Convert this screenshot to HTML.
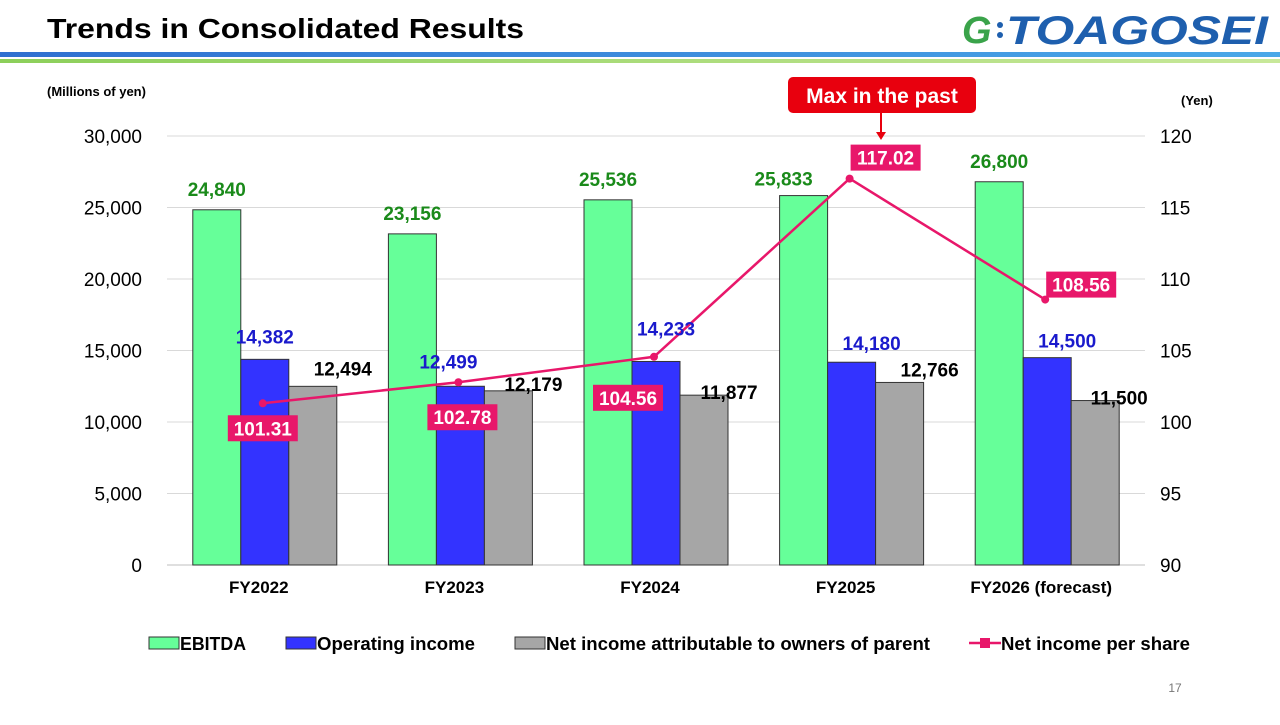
<!DOCTYPE html>
<html><head><meta charset="utf-8">
<style>
body{margin:0;width:1280px;height:720px;background:#fff;overflow:hidden;font-family:"Liberation Sans",Arial,sans-serif}
</style></head>
<body>
<svg id="c" width="1280" height="720" xmlns="http://www.w3.org/2000/svg" font-family="Liberation Sans, Arial, sans-serif">
<defs>
<linearGradient id="bl" x1="0" x2="1"><stop offset="0" stop-color="#2f6fd0"/><stop offset="1" stop-color="#4aa8e8"/></linearGradient>
<linearGradient id="gl" x1="0" x2="1"><stop offset="0" stop-color="#8ccf5a"/><stop offset="1" stop-color="#c8e89a"/></linearGradient>
</defs>
<text x="47" y="38" font-size="28" font-weight="bold" fill="#000" textLength="477" lengthAdjust="spacingAndGlyphs">Trends in Consolidated Results</text>
<g>
<text x="962" y="43" font-size="38" font-style="italic" font-weight="bold" fill="#3aa34a">G</text>
<circle cx="1000" cy="25" r="3" fill="#1e5fae"/><circle cx="1000" cy="35" r="3" fill="#1e5fae"/>
<text x="1006" y="44" font-size="40" font-style="italic" font-weight="bold" fill="#1e5fae" textLength="262" lengthAdjust="spacingAndGlyphs">TOAGOSEI</text>
</g>
<rect x="0" y="52" width="1280" height="5" fill="url(#bl)"/>
<rect x="0" y="59" width="1280" height="4" fill="url(#gl)"/>
<text x="47" y="96" font-size="13" font-weight="bold">(Millions of yen)</text>
<text x="1181" y="105" font-size="13" font-weight="bold">(Yen)</text>
<g id="grid"></g><g id="bars"></g><g id="line"></g><g id="labels"></g>
<g>
<rect x="788" y="77" width="188" height="36" rx="5" fill="#e8000e"/>
<text x="882" y="103" font-size="21" font-weight="bold" fill="#fff" text-anchor="middle">Max in the past</text>
<line x1="881" y1="113" x2="881" y2="134" stroke="#e8000e" stroke-width="2"/>
<polygon points="876,132 886,132 881,140" fill="#e8000e"/>
</g>
<g font-size="18" font-weight="bold">
<g><rect x="149" y="637" width="30" height="12" fill="#66ff99" stroke="#333"/><text x="180" y="650" textLength="66" lengthAdjust="spacingAndGlyphs">EBITDA</text></g>
<g><rect x="286" y="637" width="30" height="12" fill="#3333ff" stroke="#333"/><text x="317" y="650" textLength="158" lengthAdjust="spacingAndGlyphs">Operating income</text></g>
<g><rect x="515" y="637" width="30" height="12" fill="#a6a6a6" stroke="#333"/><text x="546" y="650" textLength="384" lengthAdjust="spacingAndGlyphs">Net income attributable to owners of parent</text></g>
<g><line x1="969" y1="643" x2="1001" y2="643" stroke="#e8176a" stroke-width="2.5"/><rect x="980" y="638" width="10" height="10" fill="#e8176a"/><text x="1001" y="650" textLength="189" lengthAdjust="spacingAndGlyphs">Net income per share</text></g>
</g>
<text x="1175" y="692" font-size="12" fill="#777" text-anchor="middle">17</text>
</svg>
<script>
const categories=["FY2022","FY2023","FY2024","FY2025","FY2026 (forecast)"];
const ebitda=[24840,23156,25536,25833,26800];
const opIncome=[14382,12499,14233,14180,14500];
const netIncome=[12494,12179,11877,12766,11500];
const eps=[101.31,102.78,104.56,117.02,108.56];
const leftTicks=[0,5000,10000,15000,20000,25000,30000];
const rightTicks=[90,95,100,105,110,115,120];
const NS="http://www.w3.org/2000/svg";
const X0=167,X1=1145,Y0=565,Y1=136;
const slot=(X1-X0)/categories.length;
const yL=v=>Y0-(v/30000)*(Y0-Y1);
const yR=v=>Y0-((v-90)/30)*(Y0-Y1);
const xC=i=>X0+slot*(i+0.5);
function mk(t,a,p){const e=document.createElementNS(NS,t);for(const k in a)e.setAttribute(k,a[k]);p.appendChild(e);return e;}
const fmt=v=>v.toLocaleString("en-US");
const grid=document.getElementById("grid");
leftTicks.forEach((t,i)=>{
  if(t>0){const g=mk("line",{x1:X0,x2:X1,y1:yL(t),y2:yL(t),stroke:"#d9d9d9"},grid);
  
  }
  const l=mk("text",{x:142,y:yL(t)+7,"font-size":19,"text-anchor":"end"},grid);l.textContent=fmt(t);
  
  
  const r=mk("text",{x:1160,y:yR(rightTicks[i])+7,"font-size":19},grid);r.textContent=rightTicks[i];
  
  
});
const ax=mk("line",{x1:X0,x2:X1,y1:Y0,y2:Y0,stroke:"#bfbfbf"},grid);


const bars=document.getElementById("bars"),labels=document.getElementById("labels");
const bw=48;
const series=[[ebitda,"#66ff99","ebitda"],[opIncome,"#3333ff","operating-income"],[netIncome,"#a6a6a6","net-income"]];
const labColors=["#1a8a1a","#1a1acc","#000"];
const labOff=[[[0,-14],[0,-14],[0,-14],[-20,-10],[0,-14]],[[0,-16],[-12,-18],[10,-26],[20,-12],[20,-10]],[[30,-11],[25,0],[25,4],[30,-6],[24,4]]];
categories.forEach((c,i)=>{
  const cx=xC(i);
  series.forEach((s,k)=>{
    const x=cx-1.5*bw+k*bw,v=s[0][i];
    const b=mk("rect",{x:x,y:yL(v),width:bw,height:Y0-yL(v),fill:s[1],stroke:"#333","stroke-width":1},bars);
    
    
    const t=mk("text",{x:x+bw/2+labOff[k][i][0],y:yL(v)+labOff[k][i][1],"font-size":19,"font-weight":"bold","text-anchor":"middle",fill:labColors[k]},labels);
    t.textContent=fmt(v);
    
    
  });
  const cl=mk("text",{x:cx-6,y:593,"font-size":17,"font-weight":"bold","text-anchor":"middle"},labels);
  cl.textContent=c;
  
  
});
const line=document.getElementById("line");
const pl=mk("polyline",{points:eps.map((v,i)=>xC(i)-2+","+yR(v)).join(" "),fill:"none",stroke:"#e8176a","stroke-width":2.5},line);


const epsOff=[[0,25],[4,35],[-26,41],[36,-21],[36,-15]];
eps.forEach((v,i)=>{
  const x=xC(i)-2,y=yR(v);
  const p=mk("circle",{cx:x,cy:y,r:4,fill:"#e8176a"},line);
  
  
  const lx=x+epsOff[i][0],ly=y+epsOff[i][1];
  const r=mk("rect",{x:lx-35,y:ly-13,width:70,height:26,fill:"#e8176a"},labels);
  
  
  const t=mk("text",{x:lx,y:ly+7,"font-size":19,"font-weight":"bold","text-anchor":"middle",fill:"#fff"},labels);
  t.textContent=v.toFixed(2);
  
  
});
</script>
</body></html>
